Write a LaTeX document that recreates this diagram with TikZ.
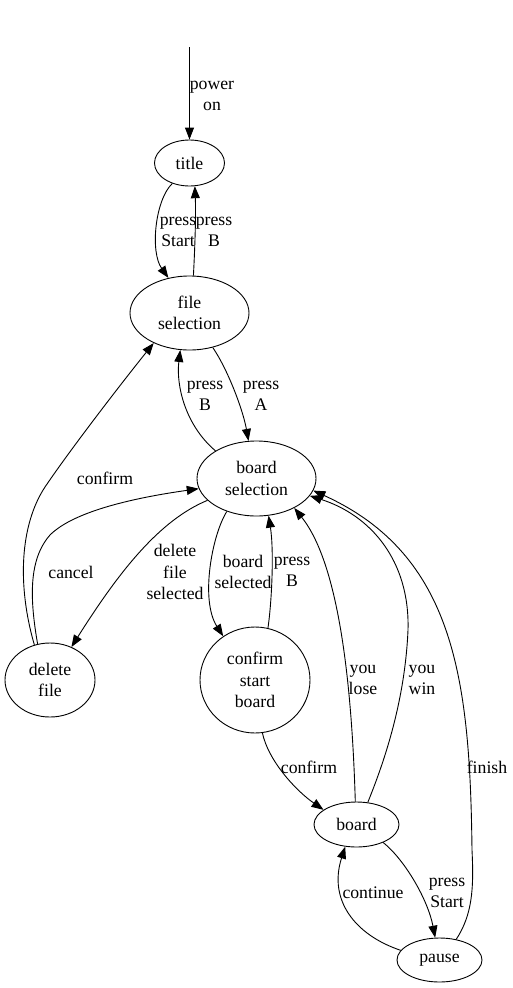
\documentclass[tikz,border=0pt]{standalone}
\usepackage{fontspec}
\setmainfont{Liberation Serif}
\usetikzlibrary{shapes.geometric,arrows.meta}
\begin{document}
\begin{tikzpicture}[x=1pt,y=-1pt,
  font=\fontsize{17.7}{21.5}\selectfont,
  st/.style={ellipse, draw, line width=0.9pt, inner sep=0pt, align=center},
  tr/.style={-{Triangle[length=12pt,width=9pt]}, line width=0.9pt},
  lbl/.style={align=center, inner sep=0pt}]
\useasboundingbox (0,0) rectangle (512,988);
% states
\node[st, minimum width=70pt, minimum height=46pt] (title) at (189.5,163) {title};
\node[st, minimum width=119pt, minimum height=74pt] (fsel) at (189.5,313) {file\\selection};
\node[st, minimum width=119pt, minimum height=75pt] (bsel) at (256.5,478.5) {board\\selection};
\node[st, minimum width=90pt, minimum height=74pt] (del) at (50,680) {delete\\file};
\node[st, minimum width=110pt, minimum height=106pt] (csb) at (255,680) {confirm\\start\\board};
\node[st, minimum width=85pt, minimum height=45pt] (board) at (356.5,824.5) {board};
\node[st, minimum width=85pt, minimum height=44pt] (pause) at (439.5,960) {pause};
\coordinate (init) at (189.5,47);
% transitions
\draw[tr] (init) -- (title)
  node[lbl, at={(212,96)}] {power\\on};
\draw[tr] (title.230) .. controls (155,200) and (150,252) .. (fsel.121.6)
  node[lbl, at={(178,232)}] {press\\Start};
\draw[tr] (fsel.84) .. controls (195,245) and (196,215) .. (title.283.5)
  node[lbl, at={(214,232)}] {press\\B};
\draw[tr] (bsel.146.8) .. controls (185,425) and (176,385) .. (fsel.256.3)
  node[lbl, at={(205,396)}] {press\\B};
\draw[tr] (fsel.304.6) .. controls (228,370) and (243,410) .. (bsel.102.8)
  node[lbl, at={(261,396)}] {press\\A};
\draw[tr] (del.114.7) .. controls (17,585) and (20,525) .. (45,487)
  .. controls (70,450) and (120,385) .. (fsel.220)
  node[lbl, at={(105,478)}] {confirm};
\draw[tr] (del.109.4) .. controls (30,600) and (28,560) .. (50,535)
  .. controls (75,510) and (140,497) .. (bsel.190)
  node[lbl, at={(71,572)}] {cancel};
\draw[tr] (bsel.204.5) .. controls (160,520) and (120,570) .. (del.57.8)
  node[lbl, at={(175,572)}] {delete\\file\\selected};
\draw[tr] (bsel.228.6) .. controls (212,535) and (200,600) .. (csb.126.3)
  node[lbl, at={(243,572)}] {board\\selected};
\draw[tr] (csb.76) .. controls (272,600) and (274,550) .. (bsel.288.9)
  node[lbl, at={(292,572)}] {press\\B};
\draw[tr] (board.93.8) .. controls (352,690) and (340,565) .. (bsel.322)
  node[lbl, at={(363,680)}] {you\\lose};
\draw[tr] (board.63) .. controls (385,760) and (405,700) .. (408,630)
  .. controls (410,560) and (370,515) .. (bsel.342)
  node[lbl, at={(422,680)}] {you\\win};
\draw[tr] (pause.51.5) .. controls (472,915) and (474,890) .. (472,850)
  .. controls (470,680) and (455,555) .. (bsel.348.5)
  node[lbl, at={(487,767)}] {finish};
\draw[tr] (csb.278.7) .. controls (268,760) and (295,790) .. (board.156.6)
  node[lbl, at={(309,767)}] {confirm};
\draw[tr] (board.326.1) .. controls (405,860) and (428,900) .. (pause.101.6)
  node[lbl, at={(447,893)}] {press\\Start};
\draw[tr] (pause.166.5) .. controls (355,935) and (328,900) .. (board.243)
  node[lbl, at={(373,893)}] {continue};
\end{tikzpicture}
\end{document}
